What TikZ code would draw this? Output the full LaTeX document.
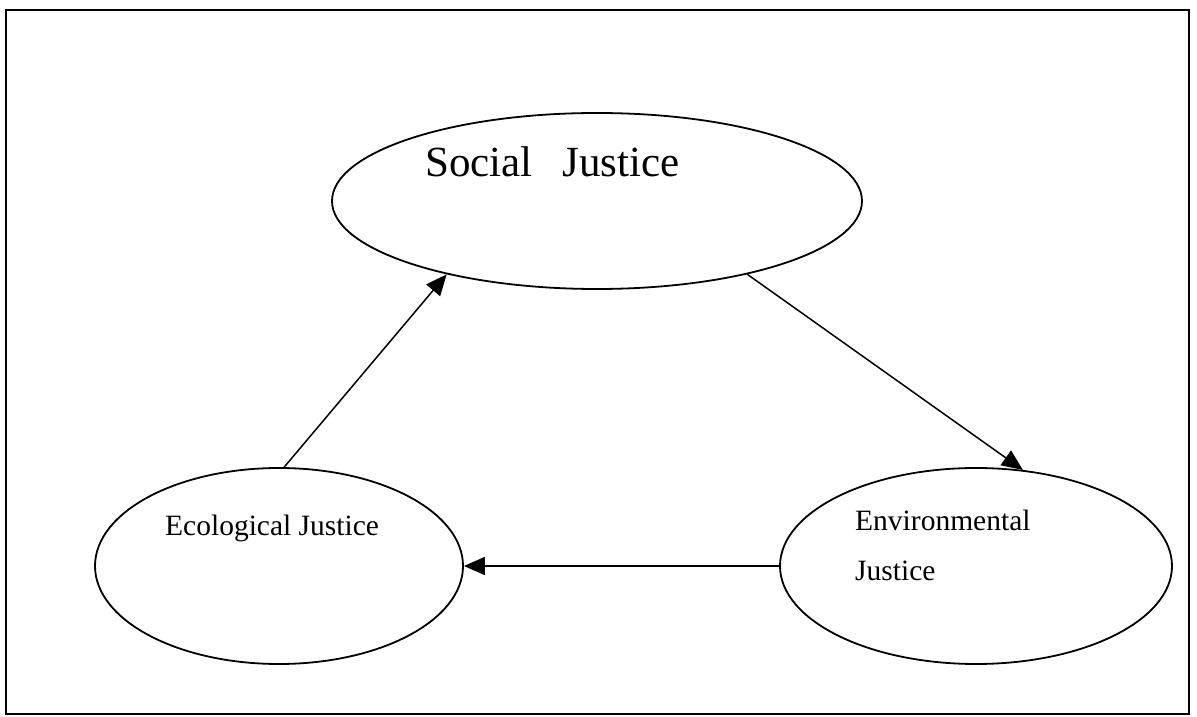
\documentclass[tikz,border=0pt]{standalone}
\usepackage{fontspec}
\setmainfont{Liberation Serif}
\usetikzlibrary{arrows.meta,shapes.geometric}
\begin{document}
\begin{tikzpicture}[x=1pt,y=1pt,
  oval/.style={draw, line width=1.8pt, ellipse, inner sep=0pt},
  conn/.style={line width=1.5pt, -{Triangle[length=21pt,width=18pt]}},
  lbl/.style={anchor=base west, inner sep=0pt},
  big/.style={font=\fontsize{43}{50}\selectfont},
  small/.style={font=\fontsize{29.5}{34}\selectfont}]
\useasboundingbox (0,0) rectangle (1197,716);
\draw[line width=2pt] (6,2) rectangle (1189,706);
\node[oval, minimum width=530, minimum height=176] (soc) at (597,515) {};
\node[oval, minimum width=368, minimum height=196] (eco) at (279,150) {};
\node[oval, minimum width=392, minimum height=196] (env) at (976,150) {};
\node[lbl, big] (tsoc) at (425,539) {Social\hspace{0.7em}Justice};
\node[lbl, small] (teco) at (165,181) {Ecological Justice};
\node[lbl, small] (tenv1) at (855,186) {Environmental};
\node[lbl, small] (tenv2) at (855,136) {Justice};
\draw[conn] (eco.87) -- (soc.206.9);
\draw[conn] (soc.-26.6) -- (env.64.1);
\draw[conn] (env.west) -- (eco.east);
\end{tikzpicture}
\end{document}
